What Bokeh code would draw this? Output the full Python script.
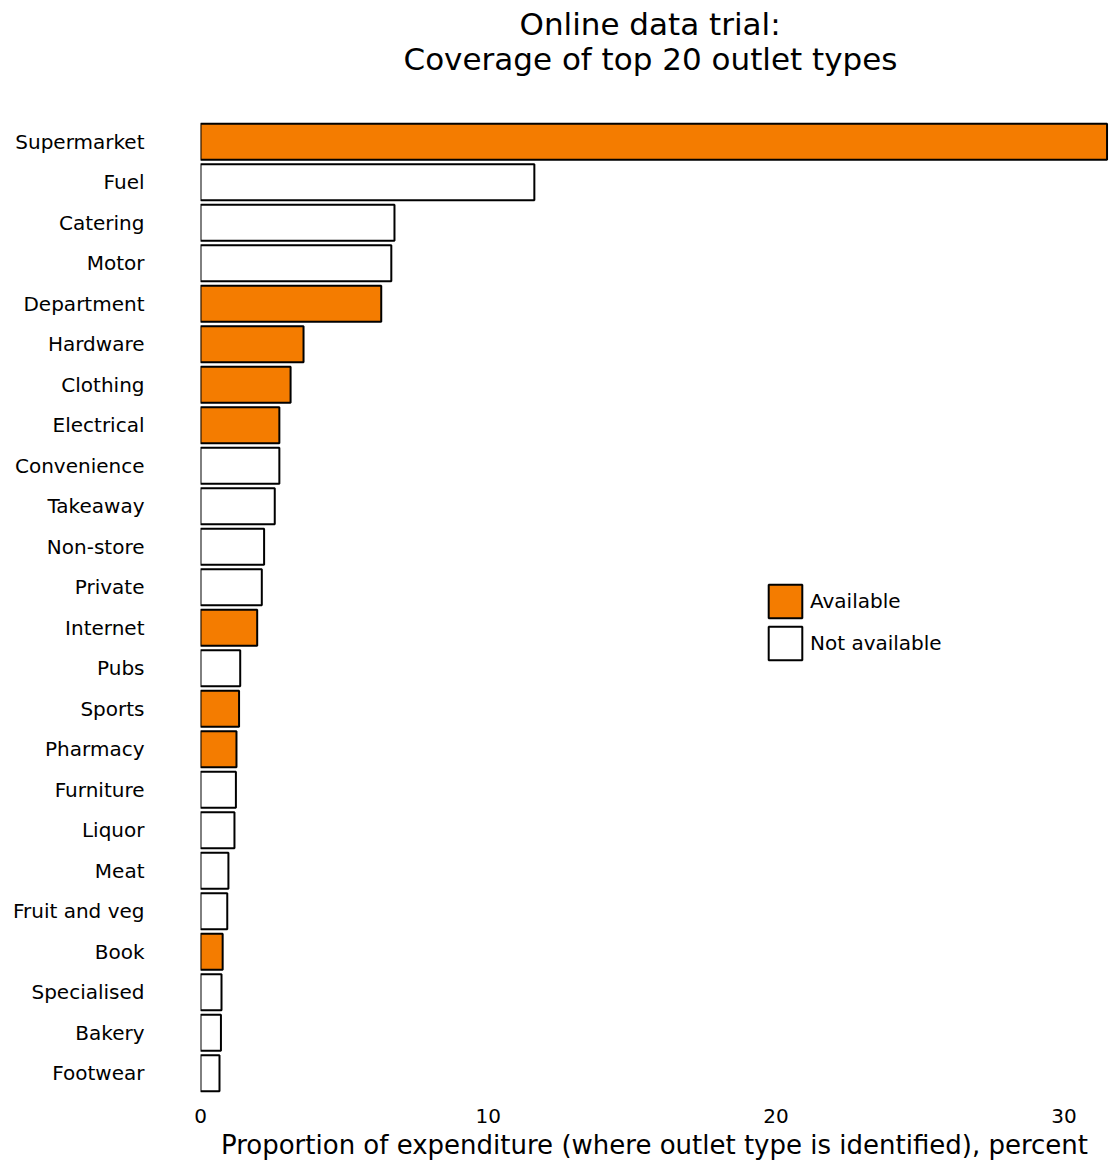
from bokeh.plotting import figure
from bokeh.models import (ColumnDataSource, Range1d, FactorRange, Legend, LegendItem, Title,
                          LinearAxis, FixedTicker)
from bokeh.embed import file_html
from bokeh.resources import INLINE

categories = ["Supermarket", "Fuel", "Catering", "Motor", "Department", "Hardware",
              "Clothing", "Electrical", "Convenience", "Takeaway", "Non-store", "Private",
              "Internet", "Pubs", "Sports", "Pharmacy", "Furniture", "Liquor", "Meat",
              "Fruit and veg", "Book", "Specialised", "Bakery", "Footwear"]
values = [31.5, 11.6, 6.74, 6.63, 6.28, 3.58, 3.13, 2.74, 2.74, 2.58, 2.21, 2.13,
          1.97, 1.38, 1.34, 1.25, 1.23, 1.18, 0.97, 0.93, 0.77, 0.73, 0.71, 0.66]
available = [True, False, False, False, True, True, True, True, False, False, False, False,
             True, False, True, True, False, False, False, False, True, False, False, False]
x_ticks = [0, 10, 20, 30]
title_lines = ["Online data trial:", "Coverage of top 20 outlet types"]

FONT = "DejaVu Sans"
ORANGE = "#F47C00"

p = figure(output_backend="svg", toolbar_location=None,
           frame_width=908, frame_height=972,
           x_range=Range1d(0, 31.55),
           y_range=FactorRange(factors=list(reversed(categories)), range_padding=0),
           min_border_left=200, min_border_right=2, min_border_top=121, min_border_bottom=0)

def subset(flag):
    c = [k for k, a in zip(categories, available) if a == flag]
    v = [x for x, a in zip(values, available) if a == flag]
    return ColumnDataSource(dict(cat=c, val=v))

r_av = p.hbar(y="cat", right="val", left=0, height=0.89, source=subset(True),
              fill_color=ORANGE, line_color="black", line_width=2)
r_na = p.hbar(y="cat", right="val", left=0, height=0.89, source=subset(False),
              fill_color="white", line_color="black", line_width=2)

p.xgrid.visible = False
p.ygrid.visible = False
p.outline_line_color = None

for ax in (p.xaxis[0], p.yaxis[0]):
    ax.axis_line_color = None
    ax.major_tick_line_color = None
    ax.minor_tick_line_color = None
    ax.major_tick_out = 0
    ax.major_tick_in = 0
    ax.minor_tick_out = 0
    ax.major_label_text_font = FONT
    ax.major_label_text_font_size = "20px"
    ax.major_label_text_color = "black"

p.xaxis.ticker = x_ticks
p.xaxis.major_label_standoff = 15
p.xaxis.axis_label = "Proportion of expenditure (where outlet type is identified), percent"
p.xaxis.axis_label_text_font = FONT
p.xaxis.axis_label_text_font_size = "26px"
p.xaxis.axis_label_text_font_style = "normal"
p.xaxis.axis_label_text_color = "black"
p.xaxis.axis_label_standoff = 4
p.yaxis.major_label_standoff = 56

# invisible spacer between the title and the plot area (one hidden tick, blank label)
spacer = LinearAxis(ticker=FixedTicker(ticks=[0]), axis_line_color=None,
                    major_tick_line_color=None, minor_tick_line_color=None,
                    major_tick_out=46, major_tick_in=0, minor_tick_out=0,
                    major_label_standoff=0, major_label_text_font_size="1px",
                    major_label_overrides={0: ""})
p.add_layout(spacer, "above")

p.title.visible = False
# inner line (closest to the plot) is added first
p.add_layout(Title(text=title_lines[1], align="left", offset=203, vertical_align="top",
                   text_font=FONT, text_font_size="31px", text_font_style="normal",
                   text_color="black", standoff=-6), "above")
p.add_layout(Title(text=title_lines[0], align="left", offset=319, vertical_align="bottom",
                   text_font=FONT, text_font_size="31px", text_font_style="normal",
                   text_color="black", standoff=4), "above")

legend = Legend(items=[LegendItem(label="Available", renderers=[r_av]),
                       LegendItem(label="Not available", renderers=[r_na])],
                location=(564, 429), orientation="vertical",
                glyph_width=42, glyph_height=42, spacing=0, padding=0, margin=0,
                label_standoff=4, label_text_font=FONT, label_text_font_size="20px",
                label_text_color="black",
                border_line_color=None, background_fill_alpha=0)
p.add_layout(legend, "center")

open("out.html", "w").write(file_html(p, INLINE))
